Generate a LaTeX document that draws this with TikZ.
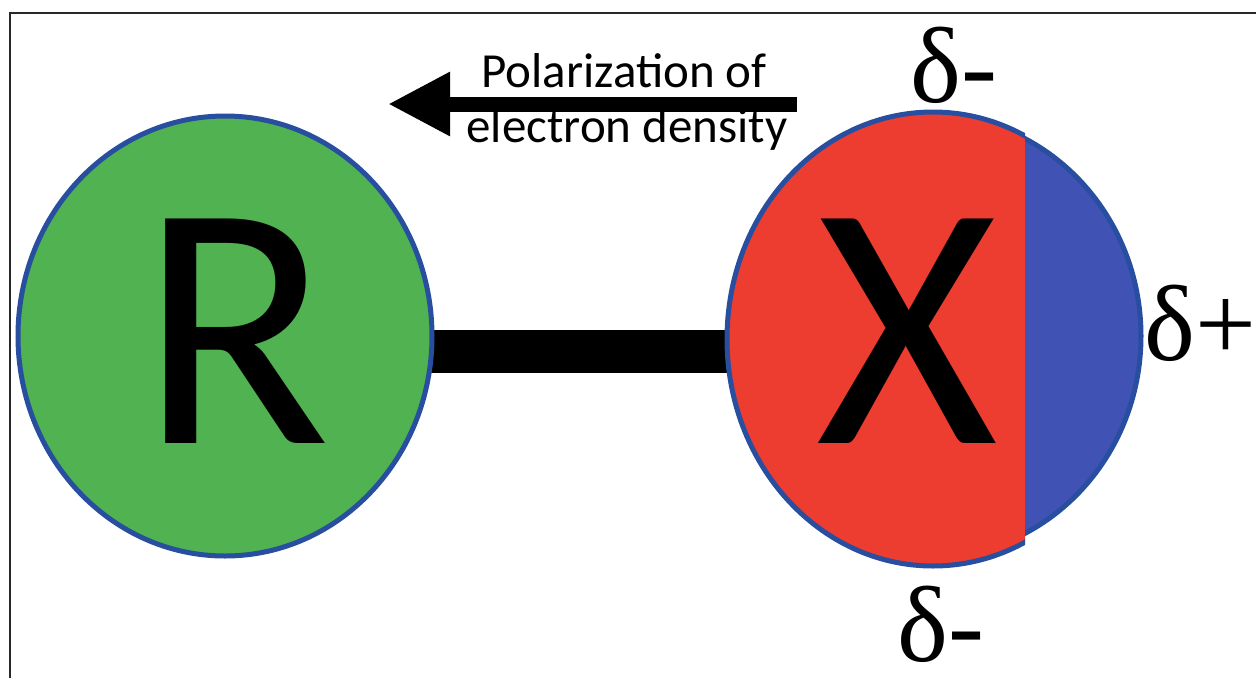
\documentclass[tikz,border=0pt]{standalone}
\usepackage{fontspec}
\setmainfont{Carlito}
\newfontfamily\deltafont{Liberation Serif}
\usetikzlibrary{shapes.geometric,arrows.meta,backgrounds}
\definecolor{rgreen}{RGB}{80,178,80}
\definecolor{xred}{RGB}{237,60,48}
\definecolor{xblue}{RGB}{64,82,180}
\definecolor{edgeblue}{RGB}{40,78,160}
\definecolor{framegray}{RGB}{40,40,40}
\tikzset{
  atomedge/.style={draw=edgeblue,line width=5pt},
  bigletter/.style={font=\fontsize{350}{350}\selectfont,inner sep=0pt,anchor=base},
  deltalabel/.style={font=\deltafont\fontsize{108}{108}\selectfont,inner sep=0pt,anchor=base west},
  bondline/.style={line width=43pt,black},
  polarrow/.style={line width=15pt,black,-{Triangle[length=62pt,width=60pt]}},
  poltext/.style={font=\fontsize{49}{55}\selectfont,inner sep=0pt,anchor=base},
}
\begin{document}
\begin{tikzpicture}[x=1pt,y=-1pt]
\useasboundingbox (0,0) rectangle (1256,678);
\draw[framegray,line width=2pt] (10,678) -- (10,13) -- (1256,13);
% R atom
\node[ellipse,atomedge,fill=rgreen,minimum width=414pt,minimum height=440pt,inner sep=0pt] (R) at (225,336) {};
\node[bigletter] (Rl) at (236,443) {R};
% X atom
\node[ellipse,minimum width=412pt,minimum height=452pt,inner sep=0pt] (X) at (933,339) {};
\begin{scope}
  \clip (700,60) rectangle (1025,620);
  \draw[atomedge,fill=xred] (933,339) ellipse [x radius=206,y radius=227];
\end{scope}
\begin{scope}
  \clip (1025,60) rectangle (1200,620);
  \draw[atomedge,fill=xblue] (930,336) ellipse [x radius=211,y radius=221];
\end{scope}
\node[bigletter] (Xl) at (907,443) {X};
% bond
\begin{scope}[on background layer]
  \draw[bondline] (R.center |- 0,351) -- (X.center |- 0,351);
\end{scope}
% polarization arrow
\coordinate (arrS) at (797,104);
\coordinate (arrE) at (388,104);
\draw[polarrow] (arrS) -- (arrE);
\node[poltext] (pol1) at (624,87) {Polarization of};
\node[poltext] (pol2) at (627,142) {electron density};
% partial charges
\node[deltalabel] (dtop) at (910,102) {δ-};
\node[deltalabel] (dright) at (1144,360) {δ+};
\node[deltalabel] (dbot) at (897,661) {δ-};
\end{tikzpicture}
\end{document}
